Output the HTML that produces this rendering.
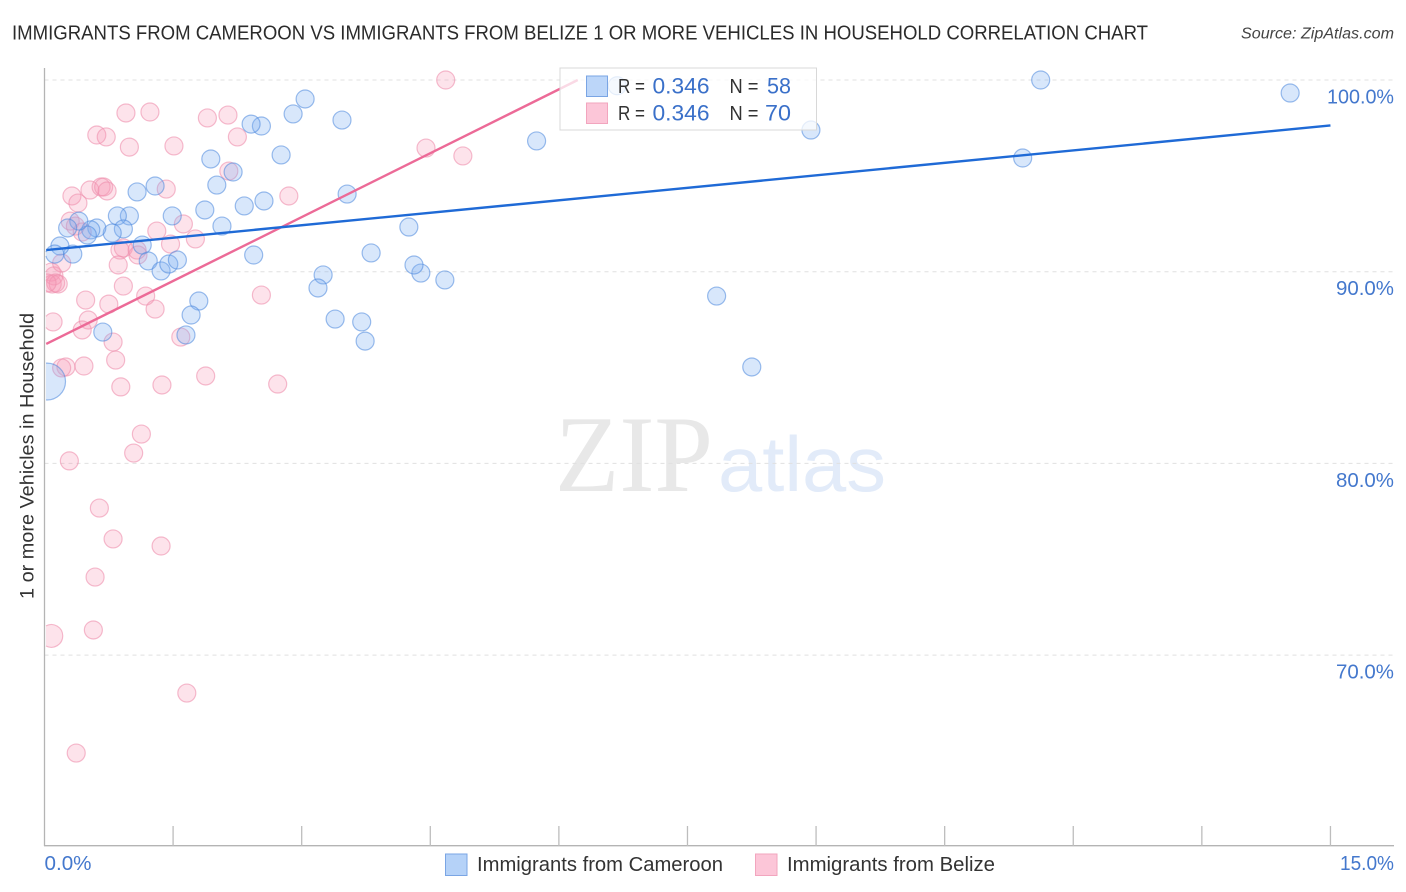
<!DOCTYPE html>
<html lang="en">
<head>
<meta charset="utf-8">
<title>Immigrants from Cameroon vs Immigrants from Belize correlation chart</title>
<style>
html,body{margin:0;padding:0;background:#fff;width:1406px;height:892px;overflow:hidden}
svg{display:block;font-family:"Liberation Sans",sans-serif}
</style>
</head>
<body>
<svg id="chart" xmlns="http://www.w3.org/2000/svg" width="1406" height="892" viewBox="0 0 1406 892">
  <g>
    <text x="555" y="491" font-family="Liberation Serif" font-size="109" fill="#e8e8e8" textLength="158" lengthAdjust="spacingAndGlyphs">ZIP</text>
    <text x="718" y="491" font-size="78" fill="#e2ebf9" textLength="168" lengthAdjust="spacingAndGlyphs">atlas</text>
  </g>
  <g id="grid"></g>
  <g id="marks"></g>
  <g id="axes"></g>
  <g id="trends"></g>
  <text x="12" y="39.5" font-size="20" fill="#2b2b2b" textLength="1136" lengthAdjust="spacingAndGlyphs">IMMIGRANTS FROM CAMEROON VS IMMIGRANTS FROM BELIZE 1 OR MORE VEHICLES IN HOUSEHOLD CORRELATION CHART</text>
  <text x="1394" y="38.5" font-size="15.5" font-style="italic" fill="#444" text-anchor="end" textLength="153" lengthAdjust="spacingAndGlyphs">Source: ZipAtlas.com</text>
  <text transform="translate(33.5 456) rotate(-90)" font-size="19" fill="#333" text-anchor="middle" textLength="286" lengthAdjust="spacingAndGlyphs">1 or more Vehicles in Household</text>

  <g>
    <rect x="560" y="68" width="256.5" height="62" fill="#fff" fill-opacity="0.75" stroke="#d8d8d8" stroke-width="1"/>
    <rect x="586.5" y="76" width="21" height="20.5" fill="#b5d2f8" fill-opacity="0.9" stroke="#7aa5e4"/>
    <rect x="586.5" y="103" width="21" height="20.5" fill="#fcc6d8" stroke="#f2a5be"/>
    <g font-size="20">
      <text x="618" y="93" fill="#333" textLength="27" lengthAdjust="spacingAndGlyphs">R =</text>
      <text x="652.5" y="93.5" fill="#3a70c9" font-size="22" textLength="57" lengthAdjust="spacingAndGlyphs">0.346</text>
      <text x="729.5" y="93" fill="#333" textLength="29" lengthAdjust="spacingAndGlyphs">N =</text>
      <text x="767" y="93.5" fill="#3a70c9" font-size="22" textLength="24" lengthAdjust="spacingAndGlyphs">58</text>
      <text x="618" y="120" fill="#333" textLength="27" lengthAdjust="spacingAndGlyphs">R =</text>
      <text x="652.5" y="120.5" fill="#3a70c9" font-size="22" textLength="57" lengthAdjust="spacingAndGlyphs">0.346</text>
      <text x="729.5" y="120" fill="#333" textLength="29" lengthAdjust="spacingAndGlyphs">N =</text>
      <text x="765" y="120.5" fill="#3a70c9" font-size="22" textLength="26" lengthAdjust="spacingAndGlyphs">70</text>
    </g>
  </g>

  <g>
    <rect x="445.5" y="854" width="21.5" height="21.5" fill="#b5d2f8" stroke="#7aa5e4"/>
    <text x="477" y="871" font-size="20" fill="#333" textLength="246" lengthAdjust="spacingAndGlyphs">Immigrants from Cameroon</text>
    <rect x="755.5" y="854" width="21.5" height="21.5" fill="#fcc6d8" stroke="#f2a5be"/>
    <text x="787" y="871" font-size="20" fill="#333" textLength="208" lengthAdjust="spacingAndGlyphs">Immigrants from Belize</text>
  </g>
</svg>
<script>
const yTickValues = [100, 90, 80, 70];
const yTickLabels = ["100.0%", "90.0%", "80.0%", "70.0%"];
const xTickValues = [0, 1.5, 3, 4.5, 6, 7.5, 9, 10.5, 12, 13.5, 15];
const xEndLabels = ["0.0%", "15.0%"];

const cameroonX = [14.53,11.62,11.41,8.94,7.84,8.25,5.74,4.67,4.39,4.31,4.25,3.81,3.74,3.70,3.39,3.25,3.19,3.53,3.47,3.04,2.90,2.76,2.53,2.41,2.20,2.01,1.94,1.87,2.07,2.33,2.56,2.44,1.49,1.29,1.08,0.99,0.85,0.92,0.79,1.14,1.21,1.36,1.45,1.55,1.80,1.71,1.65,0.68,0.61,0.54,0.50,0.40,0.27,0.33,0.18,0.12,0.03,6.68];
const cameroonY = [99.32,100,95.93,97.39,88.73,85.03,96.82,89.57,89.93,90.35,92.33,90.98,86.38,87.38,87.53,89.83,89.15,94.05,97.91,99.01,98.23,96.09,97.60,97.70,95.20,94.52,95.88,93.22,92.38,93.43,93.69,90.87,92.91,94.47,94.16,92.91,92.91,92.23,92.02,91.39,90.56,90.04,90.40,90.61,88.47,87.74,86.70,86.85,92.28,92.18,91.91,92.64,92.28,90.92,91.34,90.92,84.27,99.70];
const cameroonSize = [1,1,1,1,1,1,1,1,1,1,1,1,1,1,1,1,1,1,1,1,1,1,1,1,1,1,1,1,1,1,1,1,1,1,1,1,1,1,1,1,1,1,1,1,1,1,1,1,1,1,1,1,1,1,1,1,4.2,1];

const belizeX = [4.68,4.45,4.88,0.95,1.23,1.90,2.14,2.25,1.51,0.99,0.61,0.72,2.15,1.42,2.85,0.32,0.39,0.53,0.66,0.69,0.73,0.30,0.36,0.44,1.31,1.62,1.76,1.47,0.92,0.88,1.08,1.09,0.86,0.92,0.48,0.75,1.18,1.29,0.51,0.10,0.44,0.80,0.83,0.46,0.25,0.20,0.89,1.37,1.88,1.59,0.08,0.11,0.09,0.13,0.16,0.20,0.03,2.53,2.72,1.13,1.04,0.29,0.64,0.80,1.36,0.59,0.57,0.08,1.66,0.37];
const belizeY = [100,96.45,96.04,98.28,98.33,98.02,98.17,97.03,96.56,96.50,97.13,97.03,95.25,94.31,93.95,93.95,93.58,94.26,94.42,94.42,94.21,92.64,92.38,92.07,92.12,92.49,91.71,91.44,91.24,91.13,91.13,90.87,90.35,89.25,88.52,88.31,88.73,88.05,87.48,87.38,86.96,86.33,85.39,85.08,85.03,84.98,83.99,84.09,84.56,86.59,89.98,89.78,89.36,89.41,89.36,90.45,89.41,88.78,84.14,81.53,80.54,80.13,77.67,76.06,75.69,74.07,71.31,71.0,68.02,64.89];
const belizeSize = [1,1,1,1,1,1,1,1,1,1,1,1,1,1,1,1,1,1,1,1,1,1,1,1,1,1,1,1,1,1,1,1,1,1,1,1,1,1,1,1,1,1,1,1,1,1,1,1,1,1,1,1,1,1,1,1,1,1,1,1,1,1,1,1,1,1,1,1.6,1,1];

const cameroonTrendX = [0.02, 15];
const cameroonTrendY = [91.13, 97.63];
const belizeTrendX = [0.02, 6.22];
const belizeTrendY = [86.23, 100];

const plotLeft = 46;

function xScale(v) { return 44.5 + 85.73 * v; }
function yScale(v) { return 80 + (100 - v) * 19.17; }
function rScale(s) { return 9 * Math.sqrt(s); }

const NS = "http://www.w3.org/2000/svg";
function make(tag, parent, attrs, text) {
  const el = document.createElementNS(NS, tag);
  for (const k in attrs) el.setAttribute(k, attrs[k]);
  if (text !== undefined) el.textContent = text;
  parent.appendChild(el);
  return el;
}

/* A point crossing the left plot edge is drawn as the part of its circle right of the edge. */
function drawPoint(parent, cx, cy, r, style) {
  if (cx - r >= plotLeft) {
    return make("circle", parent, Object.assign({ cx: cx, cy: cy, r: r }, style));
  }
  const d = plotLeft - cx;
  const h = Math.sqrt(r * r - d * d);
  const large = cx >= plotLeft ? 1 : 0;
  const path = "M " + plotLeft + " " + (cy - h) + " A " + r + " " + r + " 0 " + large + " 1 " + plotLeft + " " + (cy + h);
  return make("path", parent, Object.assign({ d: path }, style));
}

const gridG = document.getElementById("grid");
const axesG = document.getElementById("axes");
const marksG = document.getElementById("marks");
const trendsG = document.getElementById("trends");

yTickValues.forEach(function (v, i) {
  const line = make("line", gridG, { x1: 44.5, x2: 1394, y1: yScale(v), y2: yScale(v), stroke: "#e0e0e0", "stroke-width": 1, "stroke-dasharray": "4 4" });
  
  
  const label = make("text", axesG, { x: 1394, y: yScale(v) + 23.5, "text-anchor": "end", "font-size": 20, fill: "#4478cd", textLength: i === 0 ? 67 : 58, lengthAdjust: "spacingAndGlyphs" }, yTickLabels[i]);
  
  
});

const yAxis = make("line", axesG, { x1: 44.5, x2: 44.5, y1: 68, y2: 846, stroke: "#b4b4b4", "stroke-width": 1.3 });


const xAxis = make("line", axesG, { x1: 44, x2: 1394, y1: 845.7, y2: 845.7, stroke: "#b4b4b4", "stroke-width": 1.3 });



xTickValues.slice(1).forEach(function (v) {
  const tick = make("line", axesG, { x1: xScale(v), x2: xScale(v), y1: 826, y2: 846, stroke: "#bdbdbd", "stroke-width": 1.3 });
  
  
});

const xLabelStart = make("text", axesG, { x: 44.5, y: 870, "font-size": 20, fill: "#4478cd", textLength: 47, lengthAdjust: "spacingAndGlyphs" }, xEndLabels[0]);


const xLabelEnd = make("text", axesG, { x: 1394, y: 870, "font-size": 20, "text-anchor": "end", fill: "#4478cd", textLength: 54, lengthAdjust: "spacingAndGlyphs" }, xEndLabels[1]);



const belizeStyle = { fill: "#f798b6", "fill-opacity": 0.27, stroke: "#ef8fae", "stroke-opacity": 0.6, "stroke-width": 1.2 };
const cameroonStyle = { fill: "#7fb0f2", "fill-opacity": 0.3, stroke: "#4a86dd", "stroke-opacity": 0.55, "stroke-width": 1.2 };

belizeX.forEach(function (v, i) {
  const c = drawPoint(marksG, xScale(v), yScale(belizeY[i]), rScale(belizeSize[i]), belizeStyle);
  
  
});
cameroonX.forEach(function (v, i) {
  const c = drawPoint(marksG, xScale(v), yScale(cameroonY[i]), rScale(cameroonSize[i]), cameroonStyle);
  
  
});

const belizeLine = make("line", trendsG, { x1: xScale(belizeTrendX[0]), y1: yScale(belizeTrendY[0]), x2: xScale(belizeTrendX[1]), y2: yScale(belizeTrendY[1]), stroke: "#ec6a97", "stroke-width": 2.4 });


const cameroonLine = make("line", trendsG, { x1: xScale(cameroonTrendX[0]), y1: yScale(cameroonTrendY[0]), x2: xScale(cameroonTrendX[1]), y2: yScale(cameroonTrendY[1]), stroke: "#1f6ad6", "stroke-width": 2.4 });


</script>
</body>
</html>
